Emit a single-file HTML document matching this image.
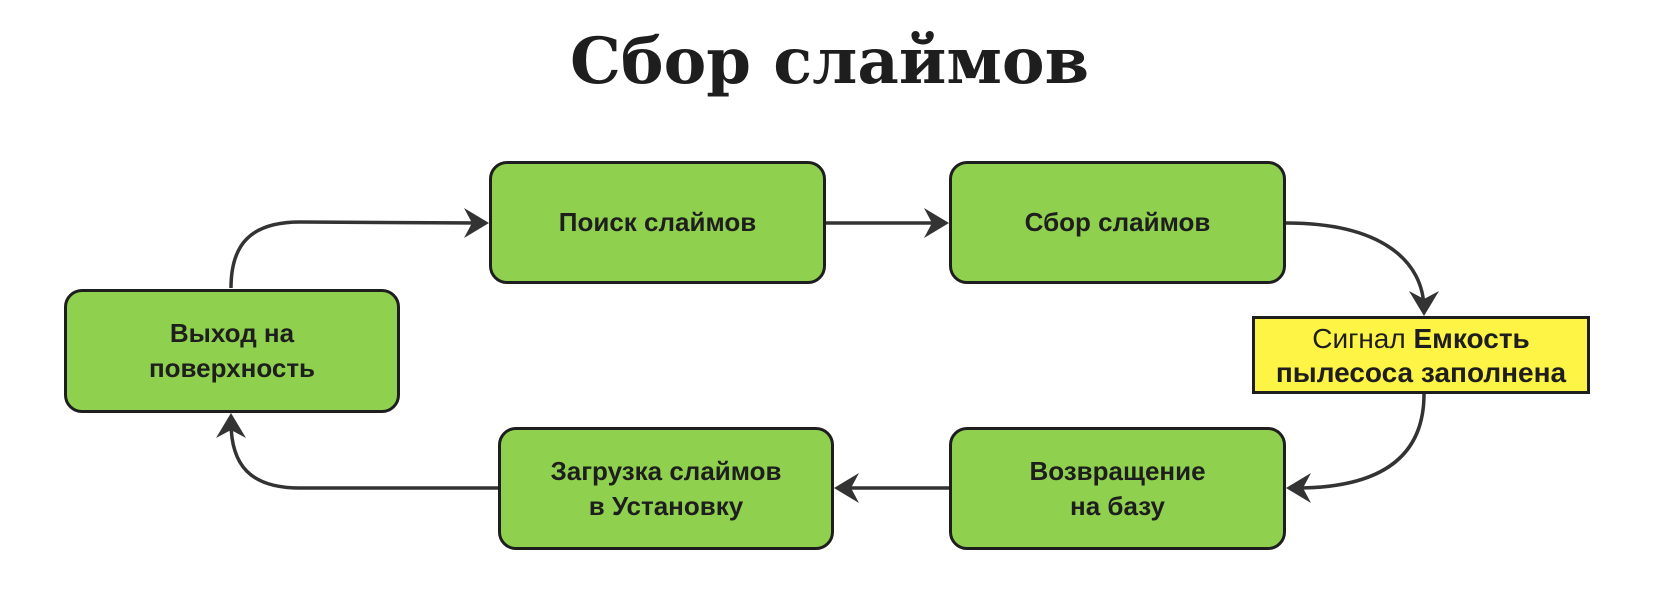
<!DOCTYPE html>
<html><head><meta charset="utf-8"><style>
body{margin:0;width:1659px;height:602px;background:#fff;overflow:hidden;position:relative;font-family:"Liberation Sans",sans-serif}
.t{position:absolute;left:0;width:1659px;top:24px;text-align:center;font-family:"DejaVu Serif","Liberation Serif",serif;font-weight:bold;font-size:64px;color:#1e1e1e}
.b{position:absolute;box-sizing:border-box;background:#8fd14f;border:3px solid #1e1e1e;border-radius:18px;display:flex;align-items:center;justify-content:center;text-align:center;font-weight:bold;font-size:26px;line-height:35px;color:#1e1e1e}
.y{position:absolute;box-sizing:border-box;background:#fef445;border:3px solid #1e1e1e;text-align:center;font-size:28px;line-height:34px;padding-top:3px;color:#1e1e1e;white-space:nowrap}
svg{position:absolute;left:0;top:0}
</style></head><body>
<div class="t">Сбор слаймов</div>
<svg width="1659" height="602"><g fill="none" stroke="#333" stroke-width="3.5">
<path d="M231 288 C231 245 250 222 300 222 L480 223"/>
<path d="M826 223 L938 223"/>
<path d="M1286 223 C1380 223 1424 260 1424 310"/>
<path d="M1424 394 C1424 450 1390 488 1296 488"/>
<path d="M949 488 L845 488"/>
<path d="M498 488 L300 488 C250 488 231 465 231 422"/>
</g><g fill="#333">
<path d="M489 223 L464 208 L472 223 L464 238Z"/>
<path d="M949 223 L924 208 L932 223 L924 238Z"/>
<path d="M1424 316 L1409 291 L1424 299 L1439 291Z"/>
<path d="M1286 488 L1311 473 L1303 488 L1311 503Z"/>
<path d="M834 488 L859 473 L851 488 L859 503Z"/>
<path d="M231 413 L216 438 L231 430 L246 438Z"/>
</g></svg>
<div class="b" style="left:489px;top:161px;width:337px;height:123px">Поиск слаймов</div>
<div class="b" style="left:949px;top:161px;width:337px;height:123px">Сбор слаймов</div>
<div class="b" style="left:64px;top:289px;width:336px;height:124px">Выход на<br>поверхность</div>
<div class="y" style="left:1252px;top:316px;width:338px;height:78px">Сигнал <b>Емкость</b><br><b>пылесоса заполнена</b></div>
<div class="b" style="left:498px;top:427px;width:336px;height:123px">Загрузка слаймов<br>в Установку</div>
<div class="b" style="left:949px;top:427px;width:337px;height:123px">Возвращение<br>на базу</div>
</body></html>
